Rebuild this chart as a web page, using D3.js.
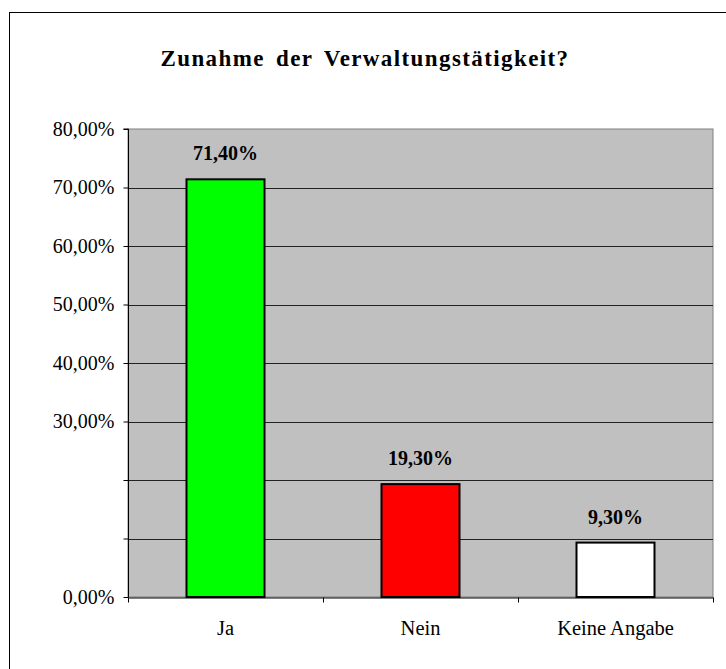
<!DOCTYPE html>
<html><head><meta charset="utf-8">
<script src="https://cdn.jsdelivr.net/npm/d3@7"></script>
<style>
body{margin:0;background:#fff}svg{display:block}
svg text{font-family:"Liberation Serif","Times New Roman",Times,serif !important;}
</style>
</head><body>
<script>
const title = "Zunahme der Verwaltungstätigkeit?";
const categories = ["Ja", "Nein", "Keine Angabe"];
const values = [71.4, 19.3, 9.3];
const barColors = ["#00ff00", "#ff0000", "#ffffff"];
const yTicks = [0, 10, 20, 30, 40, 50, 60, 70, 80];
const yTickLabels = ["0,00%", "", "", "30,00%", "40,00%", "50,00%", "60,00%", "70,00%", "80,00%"];
const valueLabels = ["71,40%", "19,30%", "9,30%"];

const W = 726, H = 669;
const m = {left: 128, top: 129, right: 713, bottom: 597};
const svg = d3.select("body").append("svg").attr("width", W).attr("height", H);

// outer border
svg.append("rect").attr("x", 9.5).attr("y", 12.5).attr("width", 800).attr("height", 800)
  .attr("fill", "#fff").attr("stroke", "#000").attr("stroke-width", 1);

const x = d3.scaleBand().domain(categories).range([m.left, m.right]).padding(0);
const y = d3.scaleLinear().domain([0, 80]).range([m.bottom, m.top]);

// plot area
svg.append("rect").attr("x", m.left).attr("y", m.top).attr("width", m.right - m.left)
  .attr("height", m.bottom - m.top).attr("fill", "#c0c0c0").attr("stroke", "#808080").attr("stroke-width", 1);

// gridlines
svg.append("g").selectAll("line").data(yTicks.filter(d => d > 0 && d < 80)).join("line")
  .attr("x1", m.left).attr("x2", m.right)
  .attr("y1", d => Math.round(y(d)) + 0.5).attr("y2", d => Math.round(y(d)) + 0.5)
  .attr("stroke", "#222").attr("stroke-width", 1);

// bars
const bw = x.bandwidth() * 0.4;
svg.append("g").selectAll("rect").data(values).join("rect")
  .attr("x", (d, i) => x(categories[i]) + (x.bandwidth() - bw) / 2)
  .attr("y", d => y(d))
  .attr("width", bw)
  .attr("height", d => y(0) - y(d))
  .attr("fill", (d, i) => barColors[i])
  .attr("stroke", "#000").attr("stroke-width", 2);

// value labels
svg.append("g").selectAll("text").data(values).join("text")
  .attr("x", (d, i) => x(categories[i]) + x.bandwidth() / 2)
  .attr("y", d => y(d) - 19)
  .attr("text-anchor", "middle")
  .attr("font-size", 20).attr("font-weight", "bold")
  .text((d, i) => valueLabels[i]);

// y axis
const yAxis = d3.axisLeft(y).tickValues(yTicks).tickSize(5).tickPadding(9)
  .tickFormat((d, i) => yTickLabels[i]);
const gy = svg.append("g").attr("transform", `translate(${m.left + 0.5},0)`).call(yAxis);
gy.attr("font-family", null);
gy.select(".domain").attr("stroke", "#000").attr("d", `M-5,${m.top}H0V${m.bottom}`);
gy.selectAll("text").attr("font-size", 20).attr("fill", "#000");
gy.selectAll(".tick line").attr("stroke", "#000");

// x axis
const xAxis = d3.axisBottom(x).tickSize(0).tickPadding(23);
const gx = svg.append("g").attr("transform", `translate(0,${m.bottom + 0.5})`).call(xAxis);
gx.attr("font-family", null);
gx.select(".domain").attr("stroke", "#000");
gx.selectAll("text").attr("font-size", 20.5).attr("fill", "#000");
// category boundary ticks
gx.append("g").selectAll("line").data(categories.concat([null])).join("line")
  .attr("x1", (d, i) => Math.round(m.left + i * x.step()) + 0.5)
  .attr("x2", (d, i) => Math.round(m.left + i * x.step()) + 0.5)
  .attr("y1", 0).attr("y2", 5).attr("stroke", "#000");

// title
svg.append("text").attr("x", 365).attr("y", 66).attr("text-anchor", "middle")
  .attr("font-size", 23).attr("font-weight", "bold")
  .attr("letter-spacing", "1.4px").attr("word-spacing", "4px")
  .text(title);
</script>
</body></html>
